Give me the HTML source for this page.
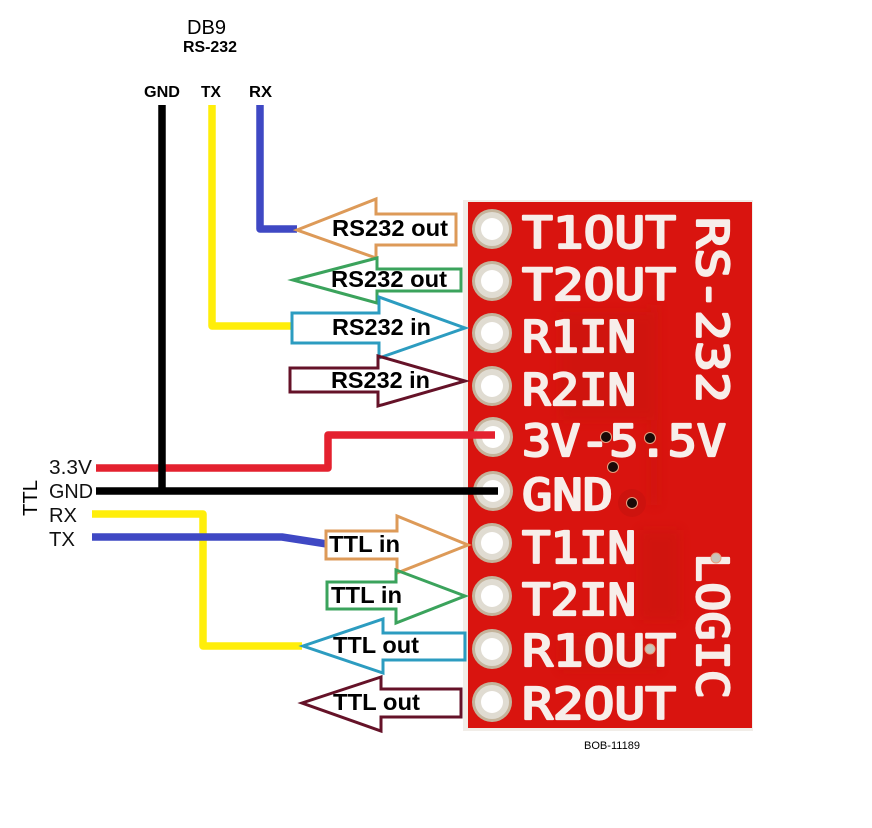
<!DOCTYPE html>
<html><head><meta charset="utf-8"><style>
html,body{margin:0;padding:0;background:#fff}
svg{display:block}
text{font-family:"Liberation Sans",sans-serif;fill:#000}
.b{font-family:"DejaVu Sans Mono",monospace;font-weight:normal;font-size:44px;fill:#f7eeea;stroke:#f7eeea;stroke-width:2.200px;stroke-linejoin:round}
.a{font-weight:bold;font-size:23.500px}
.l{font-size:20px;fill:#111}
.h{font-weight:bold;font-size:16px}
</style></head><body>
<svg width="872" height="828" viewBox="0 0 872 828" xmlns="http://www.w3.org/2000/svg">
<defs><filter id="s"><feGaussianBlur stdDeviation="5"/></filter></defs>
<!-- board -->
<rect x="463" y="200" width="290" height="531" fill="#f1ede8"/>
<rect x="468" y="202" width="284" height="526" fill="#d9140f"/>
<g filter="url(#s)" fill="#c7130e" opacity=".45">
<rect x="560" y="312" width="92" height="108"/>
<rect x="650" y="305" width="8" height="200"/>
<rect x="640" y="530" width="40" height="90"/>
<rect x="560" y="640" width="100" height="30"/>
</g>
<g fill="#c1110d" opacity=".5"><circle cx="632" cy="503" r="14"/></g>
<!-- pads -->
<g fill="#c4b49c"><circle cx="492" cy="229" r="20"/><circle cx="492" cy="281" r="20"/><circle cx="492" cy="333" r="20"/><circle cx="492" cy="386" r="20"/><circle cx="493" cy="437" r="20"/><circle cx="493" cy="491" r="20"/><circle cx="492" cy="543" r="20"/><circle cx="492" cy="596" r="20"/><circle cx="492" cy="649" r="20"/><circle cx="492" cy="702" r="20"/></g>
<g fill="#e0dcd2"><circle cx="492" cy="229" r="17"/><circle cx="492" cy="281" r="17"/><circle cx="492" cy="333" r="17"/><circle cx="492" cy="386" r="17"/><circle cx="493" cy="437" r="17"/><circle cx="493" cy="491" r="17"/><circle cx="492" cy="543" r="17"/><circle cx="492" cy="596" r="17"/><circle cx="492" cy="649" r="17"/><circle cx="492" cy="702" r="17"/></g>
<g fill="#fff"><circle cx="492" cy="229" r="11"/><circle cx="492" cy="281" r="11"/><circle cx="492" cy="333" r="11"/><circle cx="492" cy="386" r="11"/><circle cx="493" cy="437" r="11"/><circle cx="493" cy="491" r="11"/><circle cx="492" cy="543" r="11"/><circle cx="492" cy="596" r="11"/><circle cx="492" cy="649" r="11"/><circle cx="492" cy="702" r="11"/></g>
<!-- silk text -->
<text class="b" x="522" y="248" textLength="154" lengthAdjust="spacingAndGlyphs">T1OUT</text>
<text class="b" x="522" y="300" textLength="154" lengthAdjust="spacingAndGlyphs">T2OUT</text>
<text class="b" x="522" y="352" textLength="114" lengthAdjust="spacingAndGlyphs">R1IN</text>
<text class="b" x="522" y="405" textLength="114" lengthAdjust="spacingAndGlyphs">R2IN</text>
<text class="b" x="522" y="456" textLength="204" lengthAdjust="spacingAndGlyphs">3V-5.5V</text>
<text class="b" x="522" y="510" textLength="91" lengthAdjust="spacingAndGlyphs">GND</text>
<text class="b" x="522" y="563" textLength="114" lengthAdjust="spacingAndGlyphs">T1IN</text>
<text class="b" x="522" y="615" textLength="114" lengthAdjust="spacingAndGlyphs">T2IN</text>
<text class="b" x="522" y="666" textLength="154" lengthAdjust="spacingAndGlyphs">R1OUT</text>
<text class="b" x="522" y="719" textLength="154" lengthAdjust="spacingAndGlyphs">R2OUT</text>
<text class="b" transform="translate(697,217) rotate(90)" textLength="186" lengthAdjust="spacingAndGlyphs">RS-232</text>
<text class="b" transform="translate(697,553) rotate(90)" textLength="146" lengthAdjust="spacingAndGlyphs">LOGIC</text>
<!-- vias -->
<g fill="#1a0a08" stroke="#e8a080" stroke-width="1"><circle cx="606" cy="437" r="5.500"/><circle cx="650" cy="438" r="5.500"/><circle cx="613" cy="467" r="5.500"/><circle cx="632" cy="503" r="5.500"/></g>
<g fill="#c9c5ba" stroke="#e8a080" stroke-width="1"><circle cx="716" cy="558" r="5"/><circle cx="650" cy="649" r="5"/></g>
<!-- wires -->
<g fill="none" stroke-width="7.500" stroke-linejoin="round">
<path d="M260 105V229H297" stroke="#3f48c4"/>
<path d="M212 105V326H293" stroke="#ffee0a"/>
<path d="M96 468H328V435H495" stroke="#e4212f"/>
<path d="M92 514H203V646H302" stroke="#ffee0a"/>
<path d="M92 537H282L327 544" stroke="#3f48c4"/>
<path d="M162 105V491" stroke="#000"/>
<path d="M96 491H498" stroke="#000"/>
</g>
<!-- arrows -->
<g fill="none" stroke-width="3">
<path d="M297 230L376 199V214H456V245H376V258Z" stroke="#dd9a58"/>
<path d="M293 280L377 258V269H461V291H377V303Z" stroke="#3ba35c"/>
<path d="M292 313H379V297L465 328L379 358V343H292Z" stroke="#2c9cc0"/>
<path d="M290 368H378V356L465 381L378 406V392H290Z" stroke="#651228"/>
<path d="M326 531H397V516L468 545L397 573V559H326Z" stroke="#dd9a58"/>
<path d="M327 582H396V570L465 596L396 623V609H327Z" stroke="#3ba35c"/>
<path d="M303 646L383 619V633H465V660H383V673Z" stroke="#2c9cc0"/>
<path d="M302 703L381 677V689H461V717H381V731Z" stroke="#651228"/>
</g>
<!-- arrow labels -->
<text class="a" x="332" y="236" textLength="116" lengthAdjust="spacingAndGlyphs">RS232 out</text>
<text class="a" x="331" y="287" textLength="116" lengthAdjust="spacingAndGlyphs">RS232 out</text>
<text class="a" x="332" y="335" textLength="99" lengthAdjust="spacingAndGlyphs">RS232 in</text>
<text class="a" x="331" y="388" textLength="99" lengthAdjust="spacingAndGlyphs">RS232 in</text>
<text class="a" x="329" y="552" textLength="71" lengthAdjust="spacingAndGlyphs">TTL in</text>
<text class="a" x="331" y="603" textLength="71" lengthAdjust="spacingAndGlyphs">TTL in</text>
<text class="a" x="333" y="653" textLength="86" lengthAdjust="spacingAndGlyphs">TTL out</text>
<text class="a" x="333" y="710" textLength="87" lengthAdjust="spacingAndGlyphs">TTL out</text>
<!-- labels -->
<text x="187" y="34" font-size="20" textLength="39" lengthAdjust="spacingAndGlyphs">DB9</text>
<text x="183" y="52" font-size="16" font-weight="bold" textLength="54" lengthAdjust="spacingAndGlyphs">RS-232</text>
<text class="h" x="144" y="97" textLength="36" lengthAdjust="spacingAndGlyphs">GND</text>
<text class="h" x="201" y="97" textLength="20" lengthAdjust="spacingAndGlyphs">TX</text>
<text class="h" x="249" y="97" textLength="23" lengthAdjust="spacingAndGlyphs">RX</text>
<text class="l" x="49" y="474" font-size="21" textLength="43" lengthAdjust="spacingAndGlyphs">3.3V</text>
<text class="l" x="49" y="498" textLength="44" lengthAdjust="spacingAndGlyphs">GND</text>
<text class="l" x="49" y="522" textLength="28" lengthAdjust="spacingAndGlyphs">RX</text>
<text class="l" x="49" y="546" textLength="26" lengthAdjust="spacingAndGlyphs">TX</text>
<text transform="translate(37,516) rotate(-90)" font-size="20" fill="#111" textLength="36" lengthAdjust="spacingAndGlyphs">TTL</text>
<text x="584" y="749" font-size="11" fill="#222" textLength="56" lengthAdjust="spacingAndGlyphs">BOB-11189</text>
</svg>
</body></html>
